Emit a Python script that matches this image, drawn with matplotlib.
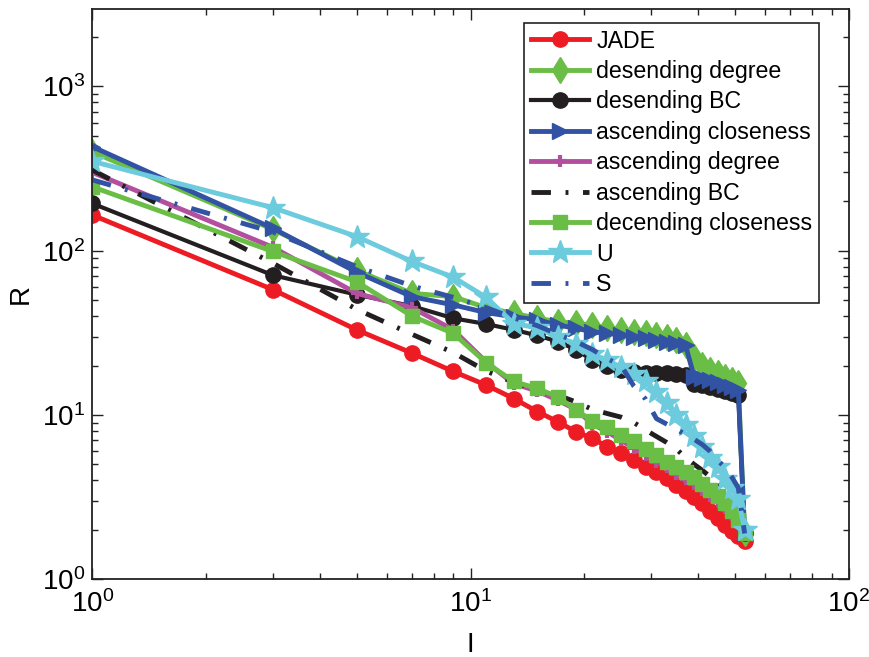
import matplotlib
matplotlib.use('Agg')
import matplotlib.pyplot as plt

plt.rcParams['font.family'] = ['Liberation Sans', 'DejaVu Sans']
plt.rcParams['mathtext.fontset'] = 'custom'
plt.rcParams['mathtext.rm'] = 'Liberation Sans'
plt.rcParams['mathtext.it'] = 'Liberation Sans:italic'
plt.rcParams['mathtext.bf'] = 'Liberation Sans:bold'

# x values (I)
I_vals = [1, 3, 5, 7, 9, 11, 13, 15, 17, 19, 21, 23, 25, 27, 29, 31, 33, 35,
          37, 39, 41, 43, 45, 47, 49, 51, 53]

jade = [165, 58, 33, 23.8, 18.4, 15.2, 12.6, 10.5, 9.1, 7.9, 7.2, 6.4, 5.85,
        5.3, 4.85, 4.5, 4.12, 3.75, 3.45, 3.15, 2.9, 2.6, 2.35, 2.15, 1.98,
        1.83, 1.7]
desc_degree = [400, 135, 76, 55, 52.5, 45, 41.6, 38.8, 37, 36.1, 35.3, 33.7,
               32.9, 32.1, 31.4, 30.7, 30, 28.6, 26.7, 22.6, 20.1, 18.8, 17.9,
               17.1, 16.3, 15.6, 1.9]
desc_bc = [194, 71, 54, 46, 38.8, 35.8, 33, 30.5, 28, 25, 21.5, 20, 18.7,
           18.3, 18.1, 18, 17.9, 17.8, 17.6, 15.5, 15.2, 14.8, 14.4, 14, 13.6,
           13.2, 1.9]
asc_closeness = [430, 137, 74, 52.5, 46.8, 42, 39.6, 37.9, 35.3, 33.7, 32.1,
                 31.4, 30.7, 30, 29.3, 28.6, 27.9, 27.3, 26.5, 17, 16.8, 16.3,
                 15.8, 15.3, 14.8, 14.2, 1.9]
asc_degree = [300, 105, 55, 45, 33, 21, 15.5, 14, 12.3, 10.8, 8.8, 7.9, 7.0,
              6.3, 5.7, 5.2, 4.8, 4.4, 4.1, 3.8, 3.5, 3.2, 3.0, 2.7, 2.45,
              2.2, 1.9]
asc_bc = [310, 84, 44, 31, 24, 18.5, 15.8, 14.3, 13.2, 12, 10.8, 10.2, 9.7,
          9, 8.1, 7.4, 6.8, 6.2, 5.5, 5.0, 4.6, 4.2, 3.9, 3.5, 3.1, 2.6, 1.9]
desc_closeness = [245, 99, 64.7, 40, 31.4, 20.8, 16, 14.5, 12.9, 10.7, 9.2,
                  8.4, 7.6, 6.9, 6.2, 5.7, 5.2, 4.8, 4.5, 4.2, 3.8, 3.5, 3.2,
                  2.9, 2.6, 2.3, 1.9]
U = [350, 183, 122, 86, 69, 52, 36, 34, 30, 27, 23.5, 21.5, 19.5, 17.8, 16,
     13.8, 11.8, 10, 8.7, 7.5, 6.4, 5.5, 4.8, 4.1, 3.6, 3.1, 2.0]
S = [270, 130, 80, 61, 52, 45, 39, 35, 31, 28, 25, 22, 20, 15, 12.5, 9.5,
     8.8, 8.2, 7.6, 7.1, 6.6, 6.0, 5.3, 4.8, 4.2, 3.6, 1.9]

labels = ['JADE', 'desending degree', 'desending BC', 'ascending closeness',
          'ascending degree', 'ascending BC', 'decending closeness', 'U', 'S']

x_ticks = [1, 10, 100]
x_ticklabels = [r'$\mathrm{10}^{\mathrm{0}}$', r'$\mathrm{10}^{\mathrm{1}}$',
                r'$\mathrm{10}^{\mathrm{2}}$']
y_ticks = [1, 10, 100, 1000]
y_ticklabels = [r'$\mathrm{10}^{\mathrm{0}}$', r'$\mathrm{10}^{\mathrm{1}}$',
                r'$\mathrm{10}^{\mathrm{2}}$', r'$\mathrm{10}^{\mathrm{3}}$']

RED = '#ED1C24'
GREEN = '#6ABD45'
BLACK = '#231F20'
BLUE = '#3253A4'
MAGENTA = '#B24F9E'
CYAN = '#6CCBDD'

fig = plt.figure(figsize=(8.7, 6.57), dpi=100)
ax = fig.add_axes([0.106, 0.1183, 0.8698, 0.8676])

dashdot = (4, 3, 0.6, 3)

ax.plot(I_vals, jade, color=RED, lw=3.5, marker='o', ms=11, label=labels[0])
ax.plot(I_vals, desc_degree, color=GREEN, lw=3.5, marker='d', ms=13,
        label=labels[1])
ax.plot(I_vals, desc_bc, color=BLACK, lw=3, marker='o', ms=11, label=labels[2])
ax.plot(I_vals, asc_closeness, color=BLUE, lw=3.5, marker='>', ms=11,
        label=labels[3])
ax.plot(I_vals, asc_degree, color=MAGENTA, lw=3.5, marker='+', ms=8, mew=3,
        label=labels[4])
ax.plot(I_vals, asc_bc, color=BLACK, lw=3.5, dashes=dashdot, label=labels[5])
ax.plot(I_vals, desc_closeness, color=GREEN, lw=3.5, marker='s', ms=10,
        label=labels[6])
ax.plot(I_vals, U, color=CYAN, lw=3.5, marker='*', ms=18, label=labels[7])
ax.plot(I_vals, S, color=BLUE, lw=3.5, dashes=dashdot, label=labels[8])

ax.set_xscale('log')
ax.set_yscale('log')
ax.set_xlim(1, 100)
ax.set_ylim(1, 2950)

ax.set_xticks(x_ticks)
ax.set_xticklabels(x_ticklabels)
ax.set_yticks(y_ticks)
ax.set_yticklabels(y_ticklabels)

ax.tick_params(which='both', direction='in', top=True, right=True,
               width=1.0, color='#222222')
ax.tick_params(which='major', length=8, labelsize=20, pad=8)
ax.tick_params(which='minor', length=4)
ax.tick_params(axis='y', which='major', pad=5)
for sp in ax.spines.values():
    sp.set_linewidth(1.3)
    sp.set_color('#222222')

ax.set_xlabel('I', fontsize=20, labelpad=10)
ax.set_ylabel('R', fontsize=20, labelpad=6)

leg = ax.legend(loc='upper right', bbox_to_anchor=(0.9608, 0.9765),
                borderaxespad=0, fontsize=16.7, frameon=True, fancybox=False,
                edgecolor='#222222', handlelength=2.5, handletextpad=0.3,
                labelspacing=0.32, borderpad=0.3, framealpha=1)
leg.get_frame().set_linewidth(1.2)

fig.savefig('out.png', dpi=100)
